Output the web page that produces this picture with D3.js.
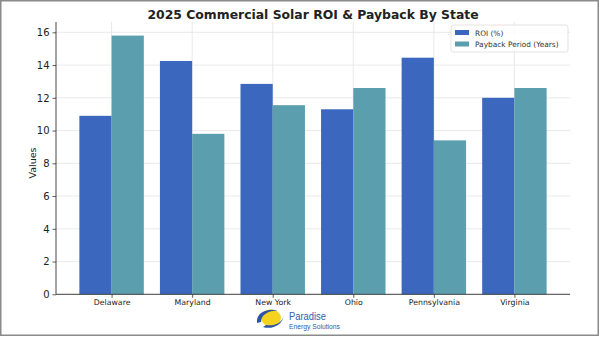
<!DOCTYPE html>
<html><head><meta charset="utf-8">
<script src="https://cdn.jsdelivr.net/npm/d3@7/dist/d3.min.js"></script>
<style>html,body{margin:0;padding:0;background:#fff;}svg{display:block;}</style>
</head><body>
<script>
const states = ["Delaware","Maryland","New York","Ohio","Pennsylvania","Virginia"];
const roi = [10.9, 14.25, 12.85, 11.3, 14.45, 12.0];
const payback = [15.8, 9.8, 11.55, 12.6, 9.4, 12.6];
const seriesNames = ["ROI (%)","Payback Period (Years)"];
const yTicks = [0,2,4,6,8,10,12,14,16];
const colors = ["#3b68be","#5b9ead"];

const W=600,H=337;
const svg=d3.select("body").append("svg").attr("width",W).attr("height",H);
svg.append("rect").attr("x",0).attr("y",0).attr("width",W).attr("height",H).attr("fill","#fff");
svg.append("rect").attr("x",0.75).attr("y",0.75).attr("width",W-2.5).attr("height",H-2.5)
  .attr("fill","none").attr("stroke","#8a8a8a").attr("stroke-width",1.5);

const L=56,R=570,T=22,B=294.3;
const x=d3.scaleLinear().domain([-0.69,5.69]).range([L,R]);
const y=d3.scaleLinear().domain([0,16.63]).range([B,T]);
const bw=0.4;

const g=svg.append("g");
g.selectAll(".hg").data(yTicks).join("line").attr("x1",L).attr("x2",R)
  .attr("y1",d=>y(d)).attr("y2",d=>y(d)).attr("stroke","#e3e3e3").attr("stroke-width",0.8);
g.selectAll(".vg").data(states).join("line").attr("y1",T).attr("y2",B)
  .attr("x1",(d,i)=>x(i)).attr("x2",(d,i)=>x(i)).attr("stroke","#e3e3e3").attr("stroke-width",0.8);

const series=[roi,payback];
series.forEach((vals,s)=>{
  g.selectAll(".b"+s).data(vals).join("rect")
    .attr("x",(d,i)=>x(i-bw+s*bw)).attr("width",x(bw)-x(0))
    .attr("y",d=>y(d)).attr("height",d=>y(0)-y(d)).attr("fill",colors[s]);
});

const ya=d3.axisLeft(y).tickValues(yTicks).tickSize(3.5).tickPadding(3).tickFormat(d3.format("d"));
const yg=svg.append("g").attr("transform",`translate(${L},0)`).call(ya);
yg.select(".domain").attr("d",`M0,${T}V${B}`).attr("stroke","#333").attr("stroke-width",0.9);
yg.selectAll(".tick line").attr("stroke","#333").attr("stroke-width",0.8);
yg.selectAll("text").attr("font-family","DejaVu Sans").attr("font-size",10).attr("fill","#222");

const xa=d3.axisBottom(x).tickValues(d3.range(states.length)).tickSize(3.5).tickPadding(1.5).tickFormat(i=>states[i]);
const xg=svg.append("g").attr("transform",`translate(0,${B})`).call(xa);
xg.select(".domain").attr("d",`M${L},0H${R}`).attr("stroke","#333").attr("stroke-width",0.9);
xg.selectAll(".tick line").attr("stroke","#333").attr("stroke-width",0.8);
xg.selectAll("text").attr("font-family","DejaVu Sans").attr("font-size",7.8).attr("fill","#222");

svg.append("text").attr("transform",`translate(36,163) rotate(-90)`).attr("text-anchor","middle")
  .attr("font-family","DejaVu Sans").attr("font-size",9.5).attr("fill","#222").text("Values");

svg.append("text").attr("x",313).attr("y",19).attr("text-anchor","middle")
  .attr("font-family","DejaVu Sans").attr("font-weight","bold").attr("font-size",12.4).attr("fill","#222")
  .text("2025 Commercial Solar ROI & Payback By State");

const lg=svg.append("g").attr("transform","translate(451,25)");
lg.append("rect").attr("width",117).attr("height",27).attr("rx",2).attr("fill","#fff").attr("fill-opacity",0.85)
  .attr("stroke","#dcdcdc").attr("stroke-width",0.8);
seriesNames.forEach((n,i)=>{
  lg.append("rect").attr("x",4).attr("y",5+i*11.5).attr("width",14).attr("height",5).attr("fill",colors[i]);
  lg.append("text").attr("x",24).attr("y",10.5+i*11.5).attr("font-family","DejaVu Sans").attr("font-size",7.4)
    .attr("fill","#333").text(n);
});

const lo=svg.append("g").attr("transform","translate(270,319)");
lo.append("ellipse").attr("cx",1).attr("cy",-1).attr("rx",10).attr("ry",8.5).attr("fill","#f4d21f");
lo.append("path").attr("d","M-13,4 C-14,-6 -4,-11 8,-8.5 C-2,-8.5 -9,-4 -9,3 Z").attr("fill","#2d55a6");
lo.append("path").attr("d","M-7,8 C2,11 12,6 14,-3 C12,4 4,7.5 -4,6 Z").attr("fill","#2d55a6");
svg.append("text").attr("x",289).attr("y",319.5).attr("font-family","Liberation Sans Narrow, Liberation Sans").attr("font-size",11)
  .attr("textLength",37).attr("lengthAdjust","spacingAndGlyphs").attr("fill","#2f5ea8").text("Paradise");
svg.append("text").attr("x",289).attr("y",328.5).attr("font-family","Liberation Sans Narrow, Liberation Sans").attr("font-size",7.6)
  .attr("textLength",51).attr("lengthAdjust","spacingAndGlyphs").attr("fill","#2f5ea8").text("Energy Solutions");
</script>
</body></html>
